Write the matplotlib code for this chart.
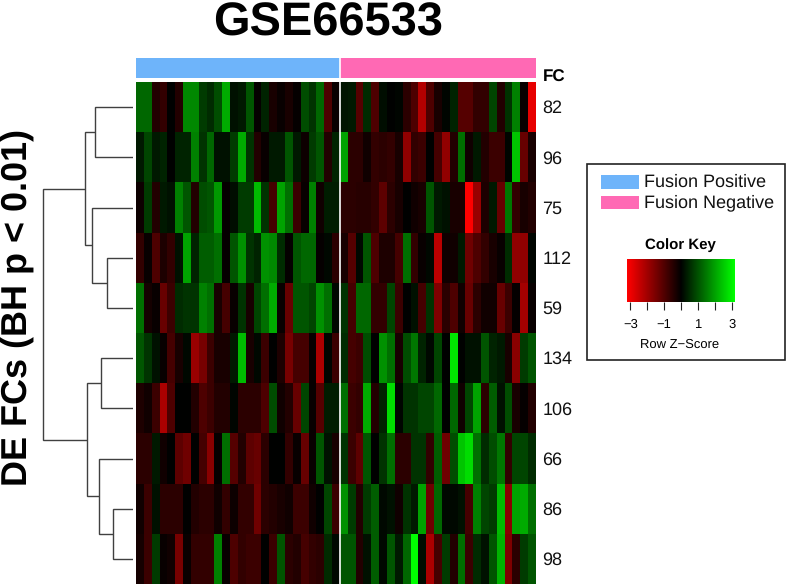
#!/usr/bin/env python3
"""Heatmap of DE FCs in GSE66533, fusion positive vs fusion negative."""

import matplotlib

matplotlib.use("Agg")
import matplotlib.pyplot as plt
import numpy as np
from matplotlib.colors import LinearSegmentedColormap, ListedColormap
from matplotlib.patches import Rectangle

plt.rcParams["font.family"] = ["Liberation Sans", "DejaVu Sans"]
plt.rcParams["text.hinting"] = "no_hinting"
plt.rcParams["text.hinting_factor"] = 1

W, H = 788, 585

TITLE = "GSE66533"
Y_LABEL = "DE FCs (BH p < 0.01)"
ROW_LABELS = ["82", "96", "75", "112", "59", "134", "106", "66", "86", "98"]
GROUPS = ["Fusion Positive", "Fusion Negative"]
GROUP_COLORS = ["#6EB4FA", "#FF69B4"]
N_POSITIVE = 26

# row z-scores, fusion positive samples (green = up, red = down)
POS_82 = [1.2, 1.2, -0.4, -0.6, 0, -0.4, 1.6, 1.6, 0.7, 0.5, 0.9, 2.0, 0.2,
          0.3, 1.0, -0.05, 0.4, -0.3, -0.1, -0.3, -0.05, 0.9, 0.6, 1.2, -0.9, -0.1]
POS_96 = [0.3, 0.8, 0.3, 0.4, 0, 0.4, 0.4, 1.5, 0.6, 1.2, 0.2, 0.2, 0.7,
          2.0, 0.6, -0.4, -0.1, 0.3, 0.3, 1.0, 0.3, -0.15, 0.7, 1.0, -0.4, 0.4]
POS_75 = [-0.15, 0.7, -0.4, 0.3, 0.2, 1.5, 1.0, -0.4, 0.9, 1.0, 1.8, -0.05, 0.15,
          0.7, 0.7, 2.2, 0.6, -0.8, 1.9, 1.3, -0.7, -0.1, 1.5, -0.2, 0.35, 0.35]
POS_112 = [-0.6, -0.1, -0.9, -0.35, -0.6, 0.2, 1.9, 0.4, 1.1, 1.1, 1.3, -0.05, 1.0,
           1.7, 0.6, 0.4, 1.7, 1.6, 0.5, -0.05, 1.0, 1.2, 1.2, -0.05, 0.1, -0.5]
POS_59 = [1.3, -0.25, -0.1, -1.2, -0.7, 0.5, 0.6, 0.6, 1.5, 1.3, -0.3, -0.8, -0.1,
          0.6, -0.3, 0.8, 1.3, 2.0, -0.1, -1.2, 1.0, 1.0, 0.8, 1.7, 1.3, 0.1]
POS_134 = [1.0, 0.6, 0.2, -0.1, -0.8, -0.3, 0.1, -1.8, -1.4, -0.7, -0.3, -0.3, 0.3,
           2.2, -0.3, 0.1, -0.7, 0, -0.35, -1.4, -0.8, -0.8, -0.1, -2.0, 0.05, -0.7]
POS_106 = [-0.35, -0.2, -0.7, -2.0, -0.9, 0, 0, -0.4, -0.9, -0.7, -0.4, -0.4, 0.05,
           -0.5, -0.5, -0.5, -0.9, 0.9, -0.2, -0.4, -1.2, 0.8, -0.1, -1.0, 0.35, 0.35]
POS_66 = [-0.5, -0.5, 0.3, -0.2, 0, -1.1, -1.3, 0, -0.8, -1.6, -0.05, 1.3, -1.0,
          -0.4, -1.1, -1.2, -0.5, 0, 0, -0.6, -0.1, -1.2, -0.1, 1.0, 0.2, -0.3]
POS_86 = [-0.2, -0.7, 0.2, -0.5, -0.5, -0.5, 0, -0.4, -0.5, -0.5, -0.2, -0.6, -0.15,
          -0.6, -0.6, -1.3, -0.5, -0.4, -0.3, -0.2, -0.7, -0.7, -0.2, 0, 0.8, -0.7]
POS_98 = [-0.25, -0.7, 0.7, -0.1, -0.2, -1.4, -0.1, -0.6, -0.6, -0.6, 1.5, -0.1, -0.9,
          -0.6, -0.7, -0.7, 0, -0.7, 1.0, -0.5, -0.4, -0.8, -0.6, -0.5, 0.5, 0.1]

# row z-scores, fusion negative samples
NEG_82 = [0.25, 0.3, -1.0, 0.5, -0.9, 0.15, 0, 0.05, -0.5, -0.9, -2.1, -0.9, -0.3,
          0.05, 0.4, -1.0, -1.0, -0.6, -0.6, 0.8, -0.4, 0.6, 1.5, -0.1, -2.7]
NEG_96 = [1.9, -0.5, -0.5, -0.2, -0.6, -0.5, -0.6, -0.3, -1.7, -0.6, -0.7, 0, -0.8,
          -1.7, -0.4, 1.3, -0.2, 0.3, -0.4, -0.7, -0.7, 0.05, 2.3, -1.2, -0.3]
NEG_75 = [-0.5, -0.5, -0.45, -0.45, -0.6, -1.1, -0.5, -0.3, 0, -0.2, -0.3, 1.0, 0.3,
          0.2, -0.3, -0.3, -3.0, -1.8, -0.35, 0.3, -1.2, 1.4, -0.6, -0.3, -0.4]
NEG_112 = [-0.3, -1.0, 0.1, 1.0, -0.9, -0.35, -0.35, -0.8, 1.3, -0.6, -0.1, 0.1, -2.2,
           -0.2, -0.2, 0.3, -1.3, -0.9, -0.6, -0.3, -0.1, 0.5, -1.7, -1.7, 0.05]
NEG_59 = [0.6, -0.8, 1.2, 1.2, -0.6, -0.6, 0.8, -0.7, 0, 0.2, -0.8, 0.6, -1.5,
          -0.5, -0.9, -0.2, -1.2, -0.5, -0.2, -0.2, -1.2, -0.7, -0.05, -1.9, -0.1]
NEG_134 = [0.5, -0.8, -0.7, 0.9, 0, 1.7, 1.3, -0.3, 0.9, 1.4, 0.4, 0.1, 0.8,
           0, 2.7, 0, 0.2, 0.2, 1.0, 0.4, 0.3, -0.3, -1.6, 0.7, 1.0]
NEG_106 = [1.3, -0.7, -0.6, 2.0, -0.4, 0.4, 2.6, 0.05, 0.6, 0.6, 0.8, 0.8, 1.2,
           0, 1.2, -0.2, 0.8, 1.9, -0.5, 1.1, 0.2, 0.9, -0.3, -0.05, -0.4]
NEG_66 = [0.6, -0.7, -1.1, 1.0, 0, 0.6, 1.3, -0.5, -0.5, 0.6, 0.6, -0.6, 1.1,
          -1.3, 0.9, 2.3, 2.6, 1.3, 0.5, 0.9, 1.4, -0.6, 0.8, 0.8, 0.5]
NEG_86 = [1.7, 0.7, -0.4, 0.7, 1.1, 0.1, 0.2, -0.2, 0.6, 0.3, 1.9, -1.3, 1.2,
          0.1, 0.1, 0.2, -0.8, 1.5, 0.8, 0.7, 2.2, -1.6, 1.9, 2.0, 1.3]
NEG_98 = [1.0, 1.0, -0.4, 0.2, 1.1, 0.1, 1.0, 0.3, 1.2, 3.0, 0.15, -2.0, -0.8,
          0.7, -0.4, 1.3, -0.7, 0.5, 0.2, 1.0, 2.1, -1.5, -0.5, 0.7, 1.0]

POS_ROWS = [POS_82, POS_96, POS_75, POS_112, POS_59, POS_134, POS_106, POS_66, POS_86, POS_98]
NEG_ROWS = [NEG_82, NEG_96, NEG_75, NEG_112, NEG_59, NEG_134, NEG_106, NEG_66, NEG_86, NEG_98]

# dendrogram merges: (left node, right node, height); nodes >= 10 are earlier merges
MERGES = [
    (0, 1, 38),     # 10
    (3, 4, 26),     # 11
    (2, 11, 41.5),  # 12
    (10, 12, 48.5), # 13
    (5, 6, 32),     # 14
    (8, 9, 20.5),   # 15
    (7, 15, 34),    # 16
    (14, 16, 46),   # 17
    (13, 17, 90),   # 18
]

KEY_TICKS = [-3, -2, -1, 0, 1, 2, 3]
KEY_LABELS = ["\u22123", "", "\u22121", "", "1", "", "3"]


def add_axes_px(fig, left, top, right, bottom):
    return fig.add_axes([left / W, 1 - bottom / H, (right - left) / W, (bottom - top) / H])


def draw_dendrogram(ax, merges, n_leaves):
    pos = {i: (0.0, i + 0.5) for i in range(n_leaves)}
    for k, (a, b, height) in enumerate(merges):
        xa, ya = pos[a]
        xb, yb = pos[b]
        ax.plot([xa, height, height, xb], [ya, ya, yb, yb],
                color="#404040", lw=1.0, solid_joinstyle="miter", solid_capstyle="butt")
        pos[n_leaves + k] = (height, (ya + yb) / 2)


def main():
    fig = plt.figure(figsize=(W / 100, H / 100), dpi=100, facecolor="white")

    z = np.hstack([np.array(POS_ROWS), np.array(NEG_ROWS)])
    n_rows, n_cols = z.shape
    cmap = LinearSegmentedColormap.from_list("rbg", ["#FF0000", "#000000", "#00FF00"])

    # legend box goes first, the colour key sits on top of it
    fig.add_artist(Rectangle((587 / W, 1 - 360 / H), 198 / W, 196 / H, transform=fig.transFigure,
                             facecolor="white", edgecolor="#222222", lw=1.2, zorder=-1))

    # main heatmap
    ax = add_axes_px(fig, 136, 82, 536, 584)
    ax.imshow(z, cmap=cmap, vmin=-3, vmax=3, aspect="auto", interpolation="nearest",
              extent=[0, n_cols, n_rows, 0])
    ax.axvline(N_POSITIVE, color="white", lw=1.2)
    ax.axis("off")

    # group colour strip
    ax_side = add_axes_px(fig, 136, 58, 536, 78)
    strip = [[0] * N_POSITIVE + [1] * (n_cols - N_POSITIVE)]
    ax_side.imshow(strip, cmap=ListedColormap(GROUP_COLORS), aspect="auto",
                   interpolation="nearest", extent=[0, n_cols, 1, 0])
    ax_side.axvline(N_POSITIVE, color="white", lw=1.2)
    ax_side.axis("off")

    # row dendrogram
    ax_den = add_axes_px(fig, 30, 82, 133, 584)
    draw_dendrogram(ax_den, MERGES, n_rows)
    ax_den.set_xlim(103, 0)
    ax_den.set_ylim(n_rows, 0)
    ax_den.axis("off")

    # row labels
    for i, label in enumerate(ROW_LABELS):
        ax.annotate(label, xy=(1, (n_rows - i - 0.5) / n_rows), xycoords="axes fraction",
                    xytext=(4.5, -1), textcoords="offset points",
                    ha="left", va="center", fontsize=13, color="#111111")
    fig.text(543 / W, 1 - 77 / H, "FC", fontsize=12.5, fontweight="bold", ha="left", va="center")

    fig.text(328.5 / W, 1 - 23 / H, TITLE, fontsize=34, fontweight="bold", ha="center", va="center")
    fig.text(17 / W, 1 - 307.5 / H, Y_LABEL, fontsize=26, fontweight="bold", rotation=90,
             ha="center", va="center")

    for i, (name, color) in enumerate(zip(GROUPS, GROUP_COLORS)):
        y = 182 + i * 20.5
        fig.add_artist(Rectangle((601 / W, 1 - (y + 6.5) / H), 38 / W, 13 / H,
                                 transform=fig.transFigure, facecolor=color, edgecolor="none"))
        fig.text(644 / W, 1 - (y + 0.5) / H, name, fontsize=13, ha="left", va="center", color="#111111")

    # colour key
    fig.text(680 / W, 1 - 245 / H, "Color Key", fontsize=11, fontweight="bold", ha="center", va="center")
    ax_key = add_axes_px(fig, 627, 259, 735, 302)
    grad = np.linspace(-3.2, 3.2, 128).reshape(1, -1)
    ax_key.imshow(grad, cmap=cmap, vmin=-3.2, vmax=3.2, aspect="auto", extent=[-3.2, 3.2, 0, 1])
    ax_key.set_yticks([])
    ax_key.set_xticks(KEY_TICKS)
    ax_key.set_xticklabels(KEY_LABELS, fontsize=9)
    ax_key.tick_params(axis="x", length=6, width=0.8, pad=6, color="#222222")
    for side in ["top", "left", "right", "bottom"]:
        ax_key.spines[side].set_visible(False)
    fig.text(680 / W, 1 - 345 / H, "Row Z\u2212Score", fontsize=9, ha="center", va="center")

    fig.savefig("out.png", dpi=100)
    plt.close(fig)


if __name__ == "__main__":
    main()
